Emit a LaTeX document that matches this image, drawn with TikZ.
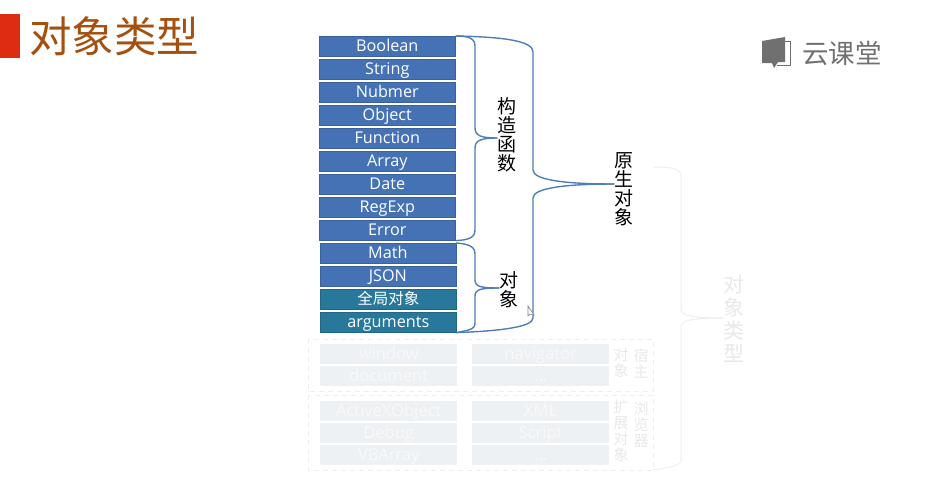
\documentclass[tikz,border=0pt]{standalone}
\usepackage{fontspec}
\setmainfont{Open Sans}
\newfontfamily\cjk{Noto Sans CJK SC}
\definecolor{boxblue}{HTML}{4472B4}
\definecolor{boxteal}{HTML}{27789A}
\definecolor{bracecol}{HTML}{4F7DB8}
\definecolor{ghostfill}{HTML}{EDF1F4}
\definecolor{ghosttext}{HTML}{F8F9FA}
\definecolor{ghostline}{HTML}{EEEEEE}
\definecolor{ghostlabelcol}{HTML}{E8E8E8}
\definecolor{titlecol}{HTML}{A5500F}
\definecolor{logocol}{HTML}{707070}
\definecolor{redmark}{HTML}{DE2C12}
\tikzset{
  blue box/.style={draw=#1!85!black,line width=.6pt,minimum width=136pt,minimum height=20pt,inner sep=0pt,anchor=north west,text=white,text height=13pt,text depth=3pt,font=\fontsize{16.2}{16}\selectfont},
  bluebox/.style={blue box=boxblue,fill=boxblue},
  tealbox/.style={blue box=boxteal,fill=boxteal},
  ghostbox/.style={fill=ghostfill,minimum width=137pt,minimum height=20pt,inner sep=0pt,anchor=north west,text=ghosttext,text height=13pt,text depth=3pt,font=\fontsize{16.5}{16}\selectfont},
  bracel/.style={draw=bracecol,line width=1.4pt},
  ghostbrace/.style={draw=ghostline,line width=1pt},
  ghostframe/.style={draw=ghostline,line width=1pt,dash pattern=on 5pt off 4pt},
  vlabel/.style={align=center,inner sep=0pt,font=\cjk\fontsize{19}{19}\selectfont,text=black},
  ghostlabel/.style={align=center,inner sep=0pt,font=\cjk\fontsize{15}{16}\selectfont,text=ghostlabelcol},
}
\begin{document}
\begin{tikzpicture}[x=1pt,y=-1pt]
\lineskiplimit=-20pt\relax
\useasboundingbox (0,0) rectangle (942,483);
% title
\fill[redmark] (0,14) rectangle (20,58);
\node[anchor=west,inner sep=0pt,text=titlecol,font=\cjk\fontsize{42.5}{43}\selectfont] (title) at (29,36) {对象类型};
% logo
\node[anchor=west,inner sep=0pt,text=logocol,font=\cjk\fontsize{26.5}{26.5}\selectfont] (logo) at (802,53) {云课堂};
\fill[logocol] (762,41) -- (785,37) -- (785,62) -- (778,62) -- (774,68) -- (772,63) -- (762,63) -- cycle;
\draw[logocol,line width=.8pt] (785,41) -- (790,41) -- (790,65) -- (777,65);
% boxes
\node[bluebox] (b1) at (319,36) {Boolean};
\node[bluebox] (b2) at (319,59) {String};
\node[bluebox] (b3) at (319,82) {Nubmer};
\node[bluebox] (b4) at (319,105) {Object};
\node[bluebox] (b5) at (319,128) {Function};
\node[bluebox] (b6) at (319,151) {Array};
\node[bluebox] (b7) at (319,174) {Date};
\node[bluebox] (b8) at (319,197) {RegExp};
\node[bluebox] (b9) at (319,220) {Error};
\node[bluebox] (b10) at (319.5,243) {Math};
\node[bluebox] (b11) at (319.5,266) {JSON};
\node[tealbox,font=\cjk\fontsize{15.5}{15.5}\selectfont] (b12) at (320,289) {全局对象};
\node[tealbox] (b13) at (320,312) {arguments};
% labels
\node[vlabel] (lg) at (507,135) {构\\造\\函\\数};
\node[vlabel] (ld) at (509,290) {对\\象};
\node[vlabel] (ly) at (624,189) {原\\生\\对\\象};
% braces
\draw[bracel] (b1.north east) .. controls (468,36) and (475,38) .. (475,46) -- (475,128)
  .. controls (475,136) and (482,138) .. (lg.west |- 0,138);
\draw[bracel] (lg.west |- 0,138) .. controls (482,138) and (475,140) .. (475,148) -- (475,230)
  .. controls (475,238) and (468,240) .. (b9.south east);
\draw[bracel] (b10.north east) .. controls (468,244) and (475,246) .. (475,254) -- (475,280)
  .. controls (475,287) and (482,288) .. (ld.west |- 0,288);
\draw[bracel] (ld.west |- 0,288) .. controls (482,288) and (475,289) .. (475,296) -- (475,323)
  .. controls (475,330) and (468,330) .. (b13.south east);
\draw[bracel] (b1.north east) .. controls (510,37) and (533,42) .. (533,52) -- (533,170)
  .. controls (533,180) and (565,184) .. (ly.west |- 0,184);
\draw[bracel] (ly.west |- 0,184) .. controls (565,184) and (533,188) .. (533,198) -- (533,318)
  .. controls (533,327) and (500,331) .. (b13.south east);
% cursor
\draw[fill=white,draw=gray,line width=.6pt] (528,306) -- (528,316) -- (530,314) -- (534,315) -- cycle;
% ghost frames
\coordinate (f1a) at (308,339);
\coordinate (f1b) at (653,391);
\coordinate (f2a) at (308,395);
\coordinate (f2b) at (653,470);
\draw[ghostframe] (f1a) rectangle (f1b);
\draw[ghostframe] (f2a) rectangle (f2b);
% ghost boxes
\node[ghostbox] (g1) at (320,344) {window};
\node[ghostbox] (g2) at (320,366) {document};
\node[ghostbox] (g3) at (472,344) {navigator};
\node[ghostbox] (g4) at (472,366) {...};
\node[ghostbox] (g5) at (320,401) {ActiveXObject};
\node[ghostbox] (g6) at (320,423) {Debug};
\node[ghostbox] (g7) at (320,445) {VBArray};
\node[ghostbox] (g8) at (472,401) {XML};
\node[ghostbox] (g9) at (472,423) {Script};
\node[ghostbox] (g10) at (472,445) {...};
% ghost labels
\node[ghostlabel] (h1) at (621,363) {对\\象};
\node[ghostlabel] (h2) at (641,363) {宿\\主};
\node[ghostlabel] (h3) at (621,431) {扩\\展\\对\\象};
\node[ghostlabel] (h4) at (641,425) {浏\\览\\器};
\node[ghostlabel,font=\cjk\fontsize{21}{23}\selectfont] (h5) at (734,319) {对\\象\\类\\型};
% ghost brace
\draw[ghostbrace] (653,167) .. controls (670,167) and (681,168) .. (681,176) -- (681,310)
  .. controls (681,316) and (695,318) .. (h5.west |- 0,318);
\draw[ghostbrace] (h5.west |- 0,318) .. controls (695,318) and (681,320) .. (681,326) -- (681,460)
  .. controls (681,466) and (668,468) .. (f2b);
\end{tikzpicture}
\end{document}
